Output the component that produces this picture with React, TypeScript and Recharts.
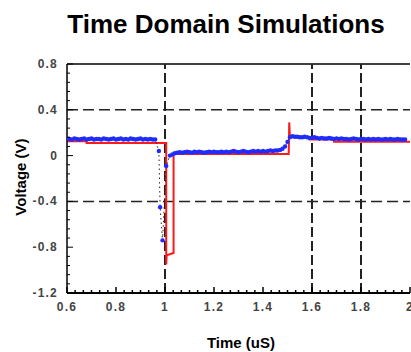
import React from 'react';
import { ComposedChart, Line, XAxis, YAxis, ReferenceLine } from 'recharts';

const X_TICKS = [0.6, 0.8, 1, 1.2, 1.4, 1.6, 1.8, 2];
const Y_TICKS = [-1.2, -0.8, -0.4, 0, 0.4, 0.8];
const X_GRID = [1, 1.6, 1.8];
const Y_GRID = [-0.4, 0.4];

// measured waveform (blue dots)
const measuredTime = [
  0.6, 0.61, 0.62, 0.63, 0.64, 0.65, 0.66, 0.67, 0.68, 0.69, 0.7, 0.71, 0.72, 0.73, 0.74, 0.75, 0.76, 0.77, 0.78,
  0.79, 0.8, 0.81, 0.82, 0.83, 0.84, 0.85, 0.86, 0.87, 0.88, 0.89, 0.9, 0.91, 0.92, 0.93, 0.94, 0.95, 0.96,
  0.975, 0.98, 0.99, 1.005,
  1.02, 1.03, 1.04, 1.05, 1.06, 1.07, 1.08, 1.09, 1.1, 1.11, 1.12, 1.13, 1.14, 1.15, 1.16, 1.17, 1.18, 1.19, 1.2,
  1.21, 1.22, 1.23, 1.24, 1.25, 1.26, 1.27, 1.28, 1.29, 1.3, 1.31, 1.32, 1.33, 1.34, 1.35, 1.36, 1.37, 1.38, 1.39,
  1.4, 1.41, 1.42, 1.43, 1.44, 1.45, 1.46, 1.47, 1.48,
  1.49, 1.5, 1.51,
  1.52, 1.53, 1.54, 1.55, 1.56, 1.57, 1.58, 1.59, 1.6, 1.61, 1.62, 1.63, 1.64, 1.65, 1.66, 1.67, 1.68, 1.69, 1.7,
  1.71, 1.72, 1.73, 1.74, 1.75, 1.76, 1.77, 1.78, 1.79, 1.8, 1.81, 1.82, 1.83, 1.84, 1.85, 1.86, 1.87, 1.88, 1.89,
  1.9, 1.91, 1.92, 1.93, 1.94, 1.95, 1.96, 1.97, 1.98,
];
const measuredVolt = [
  0.15, 0.145, 0.14, 0.15, 0.145, 0.14, 0.145, 0.15, 0.14, 0.145, 0.15, 0.14, 0.145, 0.145, 0.14, 0.15, 0.145, 0.14, 0.145,
  0.15, 0.14, 0.145, 0.15, 0.14, 0.145, 0.14, 0.15, 0.145, 0.14, 0.145, 0.15, 0.14, 0.145, 0.14, 0.145, 0.14, 0.14,
  0.04, -0.45, -0.74, -0.09,
  0.0, 0.01, 0.02, 0.025, 0.03, 0.025, 0.03, 0.035, 0.03, 0.025, 0.035, 0.03, 0.035, 0.03, 0.025, 0.03, 0.035, 0.03, 0.035,
  0.03, 0.03, 0.035, 0.03, 0.035, 0.03, 0.035, 0.04, 0.035, 0.03, 0.035, 0.04, 0.035, 0.03, 0.035, 0.04, 0.035, 0.04, 0.035,
  0.04, 0.035, 0.04, 0.045, 0.04, 0.045, 0.045, 0.05, 0.06,
  0.08, 0.12, 0.16,
  0.17, 0.165, 0.165, 0.16, 0.16, 0.165, 0.16, 0.155, 0.155, 0.16, 0.155, 0.15, 0.155, 0.15, 0.15, 0.155, 0.15, 0.145, 0.15,
  0.145, 0.15, 0.145, 0.145, 0.14, 0.145, 0.15, 0.145, 0.14, 0.145, 0.145, 0.14, 0.145, 0.14, 0.145, 0.14, 0.145, 0.14, 0.14,
  0.145, 0.14, 0.145, 0.14, 0.14, 0.145, 0.14, 0.14, 0.14,
];

// simulated waveform (red)
const simTime = [0.6, 0.68, 0.68, 1.005, 1.005, 1.007, 1.035, 1.035, 1.505, 1.507, 1.51, 1.59, 1.59, 1.69, 1.69, 2.0];
const simVolt = [0.125, 0.125, 0.11, 0.11, -0.95, -0.87, -0.85, 0.015, 0.015, 0.29, 0.16, 0.16, 0.14, 0.14, 0.12, 0.12];

const measured = measuredTime.map((x, i) => ({ x, v: measuredVolt[i] }));
const simulated = simTime.map((x, i) => ({ x, v: simVolt[i] }));

function withMinor(major: number[], parts: number) {
  const out: number[] = [];
  for (let i = 0; i < major.length - 1; i++) {
    const step = (major[i + 1] - major[i]) / parts;
    out.push(major[i]);
    for (let k = 1; k < parts; k++) out.push(major[i] + k * step);
  }
  out.push(major[major.length - 1]);
  return out;
}

const xTicks = withMinor(X_TICKS, 6);
const yTicks = withMinor(Y_TICKS, 5);

const isMajor = (list: number[], v: number) => list.some((t) => Math.abs(t - v) < 1e-9);

const tickText = {
  fontFamily: '"Liberation Sans", Arial, sans-serif',
  fontWeight: 700,
  fontSize: 12,
  fill: '#444',
  letterSpacing: 1.2,
};

function XTick({ x, y, payload }: any) {
  const major = isMajor(X_TICKS, payload.value);
  return (
    <g>
      <line x1={x} x2={x} y1={y} y2={y - (major ? 6 : 3)} stroke="#000" strokeWidth={1.5} />
      {major && (
        <text x={x} y={y + 18} textAnchor="middle" {...tickText}>
          {String(payload.value)}
        </text>
      )}
    </g>
  );
}

function YTick({ x, y, payload }: any) {
  const major = isMajor(Y_TICKS, payload.value);
  return (
    <g>
      <line x1={x} x2={x + (major ? 6 : 3)} y1={y} y2={y} stroke="#000" strokeWidth={1} />
      {major && (
        <text x={x - 9} y={y + 4} textAnchor="end" {...tickText}>
          {String(payload.value)}
        </text>
      )}
    </g>
  );
}

const bold = {
  position: 'absolute' as const,
  fontFamily: '"Liberation Sans", Arial, sans-serif',
  fontWeight: 700,
  color: '#000',
  textAlign: 'center' as const,
  whiteSpace: 'nowrap' as const,
};

export default function App() {
  return (
    <div style={{ position: 'absolute', left: 0, top: 0, width: 411, height: 352, background: '#fff', overflow: 'hidden' }}>
      <div style={{ ...bold, left: 0, width: 452, top: 11, fontSize: 26, lineHeight: '26px' }}>
        Time Domain Simulations
      </div>
      <ComposedChart width={411} height={352} margin={{ top: 64, right: 1, bottom: 0, left: 0 }}>
        <XAxis
          type="number"
          dataKey="x"
          domain={[0.6, 2]}
          ticks={xTicks}
          interval={0}
          tickSize={0}
          tickMargin={0}
          tickLine={false}
          tick={<XTick />}
          axisLine={{ stroke: '#000', strokeWidth: 2 }}
          height={59}
          allowDataOverflow
        />
        <YAxis
          type="number"
          dataKey="v"
          domain={[-1.2, 0.8]}
          ticks={yTicks}
          interval={0}
          tickSize={0}
          tickMargin={0}
          tickLine={false}
          tick={<YTick />}
          axisLine={{ stroke: '#000', strokeWidth: 1.5 }}
          width={67}
          allowDataOverflow
        />
        <ReferenceLine y={0.8} stroke="#000" strokeWidth={1.5} />
        {Y_GRID.map((v) => (
          <ReferenceLine key={`y${v}`} y={v} stroke="#222" strokeWidth={1.5} strokeDasharray="11 5" />
        ))}
        {X_GRID.map((v) => (
          <ReferenceLine key={`x${v}`} x={v} stroke="#222" strokeWidth={2} strokeDasharray="10 4" />
        ))}
        <Line
          data={simulated}
          dataKey="v"
          type="linear"
          stroke="#ff1a1a"
          strokeWidth={2}
          dot={false}
          isAnimationActive={false}
        />
        <Line
          data={measured}
          dataKey="v"
          type="linear"
          stroke="none"
          strokeWidth={0}
          dot={{ r: 2.2, fill: '#1f2cff', stroke: 'none' }}
          isAnimationActive={false}
        />
        <Line
          data={measured}
          dataKey="v"
          type="linear"
          stroke="#222"
          strokeWidth={1}
          strokeDasharray="1.5 3"
          dot={false}
          isAnimationActive={false}
        />
      </ComposedChart>
      <div
        style={{
          ...bold,
          left: 21 - 60,
          top: 177 - 9,
          width: 120,
          height: 18,
          fontSize: 15,
          lineHeight: '18px',
          transform: 'rotate(-90deg)',
        }}
      >
        Voltage (V)
      </div>
      <div style={{ ...bold, left: 141, width: 200, top: 335, fontSize: 15, lineHeight: '15px' }}>Time (uS)</div>
    </div>
  );
}
